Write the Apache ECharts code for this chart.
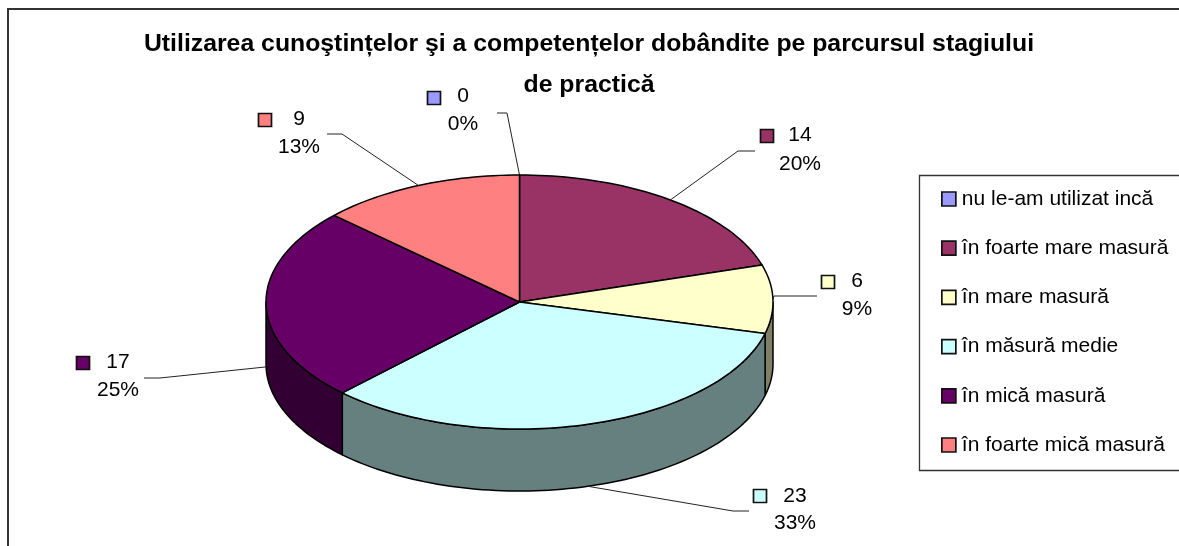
<!DOCTYPE html>
<html><head><meta charset="utf-8">
<style>html,body{margin:0;padding:0;background:#fff}#c{width:1179px;height:546px}</style>
<script src="https://cdn.jsdelivr.net/npm/echarts@6/dist/echarts.min.js"></script>
</head><body><div id="c"></div>
<script>
const categories = ['nu le-am utilizat incă','în foarte mare masură','în mare masură','în măsură medie','în mică masură','în foarte mică masură'];
const values = [0,14,6,23,17,9];
const percentLabels = ['0%','20%','9%','33%','25%','13%'];
const colors = ['#9999FF','#993366','#FFFFCC','#CCFFFF','#660066','#FF8080'];
const wallColors = ['#4D4D80','#4D1A33','#808066','#668080','#330033','#804040'];
const titleText = 'Utilizarea cunoştințelor şi a competențelor dobândite pe parcursul stagiului\nde practică';

// layout of the tilted pie
const CX=519.5, CY=302, RX=253.5, RY=127, DEPTH=62;
// label layout: swatch centre, text centre, leader start + elbow (the rim end comes from the data)
const labelLayout = [
 {sx:434,sy:98, tx:463,ty1:96, ty2:124, l:[[497,113],[507,113]]},
 {sx:767,sy:136,tx:800,ty1:135,ty2:164, l:[[755,151],[738,151]]},
 {sx:828,sy:282,tx:857,ty1:281,ty2:309, l:[[817,296],[774,296]]},
 {sx:760,sy:496,tx:795,ty1:496,ty2:523, l:[[749,511],[733,511]]},
 {sx:83, sy:363,tx:118,ty1:362,ty2:390, l:[[144,378],[160,378]]},
 {sx:265,sy:120,tx:299,ty1:119,ty2:147, l:[[327,134],[342,134]]}
];
const total = values.reduce((a,b)=>a+b,0);
function pt(aDeg,dy){const a=aDeg*Math.PI/180;return [CX+RX*Math.sin(a),CY-RY*Math.cos(a)+(dy||0)];}
function arc(a0,a1,dy){const n=Math.max(2,Math.ceil((a1-a0)/1.5));const r=[];for(let i=0;i<=n;i++)r.push(pt(a0+(a1-a0)*i/n,dy));return r;}
let acc=0;
const slices = values.map(v=>{const s=acc/total*360;acc+=v;return {s,e:acc/total*360};});

function renderSlice(i){
  return function(params,api){
    const sl=slices[i];
    const v=api.value(0);
    const kids=[];
    const stroke={stroke:'#000',lineWidth:1.5,lineJoin:'round'};
    if(v>0){
      const w0=Math.max(sl.s,90),w1=Math.min(sl.e,270);
      if(w1>w0){
        const top=arc(w0,w1,0),bot=arc(w0,w1,DEPTH).reverse();
        kids.push({type:'polygon',shape:{points:top.concat(bot)},style:Object.assign({fill:wallColors[i]},stroke)});
      }
      const face=[[CX,CY]].concat(arc(sl.s,sl.e,0));
      kids.push({type:'polygon',shape:{points:face},style:Object.assign({fill:colors[i]},stroke)});
    }
    const L=labelLayout[i];
    const m=(sl.s+sl.e)/2;
    const end=pt(m,(m>90&&m<270)?DEPTH:0);
    kids.push({type:'polyline',shape:{points:L.l.concat([end])},style:{fill:null,stroke:'#222',lineWidth:1}});
    kids.push({type:'rect',shape:{x:L.sx-6.5,y:L.sy-6.5,width:13,height:13},style:{fill:colors[i],stroke:'#111',lineWidth:1.7}});
    const font='21px "Liberation Sans"';
    kids.push({type:'text',style:{text:String(v),x:L.tx,y:L.ty1,align:'center',verticalAlign:'middle',font,fill:'#000'}});
    kids.push({type:'text',style:{text:percentLabels[i],x:L.tx,y:L.ty2,align:'center',verticalAlign:'middle',font,fill:'#000'}});
    return {type:'group',children:kids};
  };
}
const option={
  animation:false,
  backgroundColor:'#fff',
  title:{text:titleText,left:584,top:18.5,textAlign:'center',
    textStyle:{fontFamily:'Liberation Sans',fontWeight:'bold',fontSize:24.8,lineHeight:41,color:'#000'}},
  legend:{orient:'vertical',left:941,top:188.5,padding:0,itemWidth:14,itemHeight:14,itemGap:28.2,
    icon:'rect',selectedMode:false,z:5,
    textStyle:{fontFamily:'Liberation Sans',fontSize:21,lineHeight:21,color:'#000',padding:[0,0,0,1]},
    itemStyle:{borderColor:'#111',borderWidth:1.7},
    data:categories},
  graphic:[
    {type:'rect',shape:{x:8,y:9,width:1300,height:700},style:{fill:'none',stroke:'#333',lineWidth:2},silent:true,z:0},
    {type:'rect',shape:{x:919.5,y:175.5,width:400,height:295},style:{fill:'#fff',stroke:'#333',lineWidth:1.3},silent:true,z:0}
  ],
  series:categories.map((n,i)=>({
    type:'custom',name:n,coordinateSystem:'none',silent:true,z:2,
    itemStyle:{color:colors[i]},
    data:[[values[i]]],
    renderItem:renderSlice(i)
  }))
};
echarts.init(document.getElementById('c'),null,{renderer:'canvas'}).setOption(option);
</script></body></html>
